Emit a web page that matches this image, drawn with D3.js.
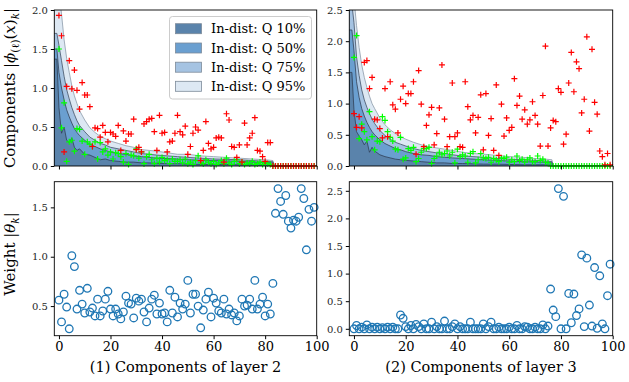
<!DOCTYPE html>
<html>
<head>
<meta charset="utf-8">
<script src="https://cdn.jsdelivr.net/npm/d3@7"></script>
<style>
  body { margin: 0; background: #fff; }
  svg { display: block; font-family: "DejaVu Serif", serif; }
</style>
</head>
<body>
<svg id="chart" width="629" height="382"></svg>
<script>
// ---- data ----
const xTicks = [0, 20, 40, 60, 80, 100];
const legendLabels = ["In-dist: Q 10%", "In-dist: Q 50%", "In-dist: Q 75%", "In-dist: Q 95%"];

// layer 2: in-dist quantile curves
const qxL2 = [-2, -0.8, 0, 1, 2, 3, 4, 5, 6, 7, 8, 10, 12, 14, 16, 18, 20, 23, 26, 29, 32, 35, 38, 42, 46, 50, 55, 60, 65, 70, 75, 80, 83, 83.6, 100];
const q95L2 = [2.3, 2.3, 2.25, 1.95, 1.62, 1.38, 1.20, 1.03, 0.90, 0.80, 0.71, 0.59, 0.49, 0.43, 0.38, 0.35, 0.32, 0.29, 0.26, 0.24, 0.21, 0.20, 0.19, 0.17, 0.15, 0.15, 0.13, 0.12, 0.11, 0.10, 0.09, 0.08, 0.07, 0, 0];
const q75L2 = [1.70, 1.70, 1.55, 1.35, 1.15, 0.98, 0.86, 0.75, 0.66, 0.58, 0.52, 0.44, 0.37, 0.33, 0.29, 0.27, 0.24, 0.22, 0.20, 0.18, 0.16, 0.15, 0.14, 0.13, 0.12, 0.11, 0.10, 0.09, 0.085, 0.08, 0.07, 0.06, 0.055, 0, 0];
const q50L2 = [1.50, 1.50, 1.20, 1.00, 0.85, 0.72, 0.63, 0.55, 0.48, 0.43, 0.39, 0.33, 0.28, 0.25, 0.22, 0.20, 0.18, 0.16, 0.15, 0.13, 0.12, 0.11, 0.10, 0.095, 0.09, 0.08, 0.075, 0.07, 0.065, 0.06, 0.05, 0.045, 0.04, 0, 0];
const q10L2 = [1.37, 1.37, 0.75, 0.42, 0.50, 0.33, 0.30, 0.36, 0.24, 0.20, 0.22, 0.15, 0.14, 0.11, 0.08, 0.09, 0.07, 0.06, 0.05, 0.05, 0.04, 0.04, 0.035, 0.03, 0.03, 0.025, 0.02, 0.02, 0.02, 0.015, 0.015, 0.01, 0.01, 0, 0];

// layer 2: one in-dist (green) and one OOD (red) sample, components 0..99
const inL2 = [1.50, 0.49, 0.81, 0.06, 0.31, 0.33, 0.19, 0.48, 0.47, 0.32,
  0.15, 0.31, 0.28, 0.25, 0.31, 0.09, 0.30, 0.18, 0.22, 0.14,
  0.18, 0.09, 0.17, 0.16, 0.12, 0.05, 0.16, 0.02, 0.14, 0.13,
  0.22, 0.10, 0.18, 0.03, 0.12, 0.15, 0.08, 0.03, 0.10, 0.05,
  0.11, 0.07, 0.08, 0.03, 0.09, 0.06, 0.06, 0.08, 0.04, 0.09,
  0.03, 0.05, 0.02, 0.07, 0.13, 0.04, 0.03, 0.08, 0.05, 0.03,
  0.06, 0.02, 0.04, 0.07, 0.03, 0.10, 0.04, 0.02, 0.06, 0.08,
  0.03, 0.05, 0.02, 0.04, 0.03, 0.06, 0.02, 0.03, 0.05, 0.02,
  0.04, 0.03, 0.02, 0, 0, 0, 0, 0, 0, 0,
  0, 0, 0, 0, 0, 0, 0, 0, 0, 0];
const oodL2 = [1.93, 1.67, 0.18, 1.02, 1.35, 0.99, 1.23, 0.97, 0.73, 1.07,
  0.91, 0.91, 0.76, 0.25, 0.49, 0.48, 0.37, 0.52, 0.43, 0.31,
  0.43, 0.41, 0.38, 0.52, 0.20, 0.45, 0.32, 0.41, 0.41, 0.60,
  0.21, 0.24, 0.18, 0.54, 0.57, 0.60, 0.61, 0.44, 0.20, 0.65,
  0.42, 0.43, 0.18, 0.31, 0.32, 0.42, 0.65, 0.44, 0.40, 0.51,
  0.15, 0.25, 0.42, 0.50, 0.46, 0.07, 0.20, 0.57, 0.29, 0.22,
  0.24, 0.36, 0.37, 0.36, 0.05, 0.67, 0.59, 0.25, 0.24, 0.11,
  0.27, 0.05, 0.55, 0.27, 0.36, 0.42, 0.62, 0.20, 0.19, 0.12,
  0.06, 0.30, 0.30, 0, 0, 0, 0, 0, 0, 0,
  0, 0, 0, 0, 0, 0, 0, 0, 0, 0];

// layer 3: in-dist quantile curves
const qxL3 = [-2, -0.8, 0, 1, 2, 3, 4, 5, 6, 7, 8, 10, 12, 14, 16, 18, 20, 23, 26, 29, 32, 35, 38, 42, 46, 50, 55, 60, 65, 70, 74, 76.5, 77, 100];
const q95L3 = [2.8, 2.8, 2.7, 2.25, 1.90, 1.62, 1.42, 1.26, 1.12, 1.00, 0.92, 0.77, 0.66, 0.58, 0.52, 0.47, 0.43, 0.38, 0.34, 0.31, 0.29, 0.27, 0.25, 0.22, 0.20, 0.19, 0.17, 0.15, 0.14, 0.12, 0.11, 0.10, 0, 0];
const q75L3 = [2.6, 2.6, 2.3, 1.75, 1.45, 1.22, 1.06, 0.94, 0.84, 0.75, 0.68, 0.57, 0.49, 0.43, 0.38, 0.35, 0.32, 0.28, 0.25, 0.23, 0.21, 0.20, 0.18, 0.16, 0.15, 0.14, 0.12, 0.11, 0.10, 0.09, 0.08, 0.07, 0, 0];
const q50L3 = [2.18, 2.18, 1.85, 1.35, 1.10, 0.92, 0.80, 0.70, 0.62, 0.55, 0.50, 0.42, 0.36, 0.32, 0.28, 0.26, 0.23, 0.20, 0.18, 0.17, 0.15, 0.14, 0.13, 0.12, 0.11, 0.10, 0.09, 0.08, 0.07, 0.065, 0.06, 0.05, 0, 0];
const q10L3 = [1.5, 1.5, 0.9, 0.55, 0.48, 0.42, 0.34, 0.40, 0.22, 0.30, 0.24, 0.18, 0.15, 0.13, 0.11, 0.10, 0.09, 0.08, 0.07, 0.06, 0.05, 0.05, 0.04, 0.04, 0.035, 0.03, 0.03, 0.025, 0.02, 0.02, 0.02, 0.015, 0, 0];

const inL3 = [1.74, 2.09, 0.44, 0.67, 0.55, 0.42, 0.87, 0.47, 0.26, 0.40,
  0.39, 0.79, 0.73, 0.55, 0.46, 0.40, 0.27, 0.26, 0.46, 0.11,
  0.13, 0.28, 0.25, 0.30, 0.07, 0.12, 0.22, 0.28, 0.28, 0.30,
  0.04, 0.12, 0.16, 0.22, 0.18, 0.20, 0.24, 0.16, 0.22, 0.05,
  0.27, 0.15, 0.18, 0.16, 0.06, 0.20, 0.23, 0.05, 0.10, 0.20,
  0.13, 0.12, 0.14, 0.06, 0.12, 0.10, 0.07, 0.13, 0.12, 0.14,
  0.06, 0.10, 0.07, 0.16, 0.09, 0.11, 0.06, 0.10, 0.13, 0.07,
  0.07, 0.16, 0.09, 0.11, 0.06, 0.05, 0, 0, 0, 0,
  0, 0, 0, 0, 0, 0, 0, 0, 0, 0,
  0, 0, 0, 0, 0, 0, 0, 0, 0, 0];
const oodL3 = [0.84, 0.62, 0.79, 0.61, 1.66, 1.69, 1.24, 1.42, 0.75, 0.74,
  0.60, 0.45, 1.24, 0.47, 1.35, 0.98, 0.91, 0.53, 1.07, 1.28,
  1.00, 1.16, 1.16, 1.35, 0.19, 1.53, 0.99, 0.31, 0.65, 0.82,
  0.94, 0.34, 0.52, 0.93, 1.62, 0.75, 0.31, 0.47, 1.33, 0.47,
  0.53, 0.31, 0.30, 1.35, 0.95, 0.74, 0.81, 0.53, 0.78, 1.14,
  0.26, 1.16, 0.49, 0.76, 0.25, 1.30, 0.17, 0.99, 0.48, 0.77,
  0.57, 0.62, 1.40, 0.97, 1.12, 0.75, 0.90, 0.67, 0.74, 1.03,
  0.81, 0.67, 0.32, 1.13, 1.92, 0.32, 0.61, 0.73, 0.71, 1.24,
  1.18, 0.35, 0.51, 1.33, 1.82, 1.19, 1.67, 1.56, 0.85, 1.07,
  2.07, 0.56, 1.87, 1.02, 0.83, 0.24, 0.15, 0.02, 0.20, 0.02];

// weights |theta_k|
const wL2 = [0.56, 0.34, 0.62, 0.49, 0.27, 1.01, 0.90, 0.47, 0.66, 0.52,
  0.43, 0.68, 0.44, 0.48, 0.40, 0.57, 0.40, 0.45, 0.57, 0.65,
  0.47, 0.40, 0.47, 0.42, 0.37, 0.44, 0.60, 0.53, 0.52, 0.38,
  0.58, 0.55, 0.57, 0.44, 0.34, 0.48, 0.57, 0.61, 0.42, 0.53,
  0.42, 0.43, 0.34, 0.66, 0.43, 0.59, 0.39, 0.53, 0.47, 0.52,
  0.76, 0.43, 0.62, 0.62, 0.50, 0.28, 0.46, 0.57, 0.64, 0.39,
  0.58, 0.53, 0.45, 0.43, 0.57, 0.42, 0.47, 0.41, 0.43, 0.35,
  0.40, 0.57, 0.50, 0.51, 0.57, 0.47, 0.76, 0.47, 0.52, 0.59,
  0.40, 0.52, 0.42, 0.73, 1.44, 1.69, 1.56, 1.43, 1.62, 1.36,
  1.29, 1.37, 1.36, 1.40, 1.69, 1.59, 1.07, 1.48, 1.36, 1.50];
const wL3 = [0.00, 0.06, 0.00, 0.03, 0.00, 0.07, 0.00, 0.03, 0.00, 0.03,
  0.00, 0.02, 0.00, 0.03, 0.00, 0.03, 0.00, 0.00, 0.25, 0.19,
  0.04, 0.00, 0.06, 0.00, 0.08, 0.04, 0.00, 0.09, 0.00, 0.00,
  0.12, 0.00, 0.04, 0.00, 0.00, 0.14, 0.00, 0.00, 0.04, 0.09,
  0.00, 0.04, 0.00, 0.00, 0.00, 0.12, 0.00, 0.00, 0.00, 0.00,
  0.09, 0.00, 0.04, 0.12, 0.00, 0.00, 0.03, 0.00, 0.00, 0.00,
  0.03, 0.00, 0.00, 0.06, 0.00, 0.00, 0.04, 0.03, 0.00, 0.00,
  0.03, 0.00, 0.00, 0.07, 0.00, 0.05, 0.72, 0.34, 0.22, 2.54,
  0.00, 2.40, 0.00, 0.64, 0.11, 0.63, 0.24, 0.36, 1.34, 0.04,
  1.28, 0.43, 0.05, 1.11, 0.01, 0.96, 0.09, 0.00, 0.60, 1.17];

// ---- layout ----
const svg = d3.select("#chart");
const bandColors = ["#5a83ab", "#6a9fd0", "#a5c3e2", "#dde8f3"];
const edgeColors = ["#2e3d52", "#2e3d52", "#3c4b60", "#8796a6"];

const cols = [
  {x0: 54.3, x1: 316.7, label: "(1) Components of layer 2",
   qx: qxL2, q: [q10L2, q50L2, q75L2, q95L2], inS: inL2, oodS: oodL2, yTopMax: 2.0, yTopTicks: [0, 0.5, 1, 1.5, 2],
   w: wL2, wDomain: [0.2, 1.76], wTicks: [0.5, 1.0, 1.5]},
  {x0: 349.3, x1: 612.7, label: "(2) Components of layer 3",
   qx: qxL3, q: [q10L3, q50L3, q75L3, q95L3], inS: inL3, oodS: oodL3, yTopMax: 2.5, yTopTicks: [0, 0.5, 1, 1.5, 2, 2.5],
   w: wL3, wDomain: [-0.125, 2.665], wTicks: [0, 0.5, 1.0, 1.5, 2.0, 2.5]}
];
const topBox = {y0: 10, y1: 166};
const botBox = {y0: 181.7, y1: 335.7};
const idx = d3.range(100);

const defs = svg.append("defs");

cols.forEach((c, ci) => {
  const x = d3.scaleLinear().domain([-1.8, 100]).range([c.x0, c.x1]);

  // --- top panel: quantile bands + samples ---
  const y = d3.scaleLinear().domain([0, c.yTopMax]).range([topBox.y1, topBox.y0]);
  defs.append("clipPath").attr("id", "clip" + ci)
    .append("rect").attr("x", c.x0).attr("y", topBox.y0)
    .attr("width", c.x1 - c.x0).attr("height", topBox.y1 - topBox.y0);
  const gTop = svg.append("g").attr("clip-path", `url(#clip${ci})`);

  // draw widest band first so narrower ones sit on top
  [3, 2, 1, 0].forEach(k => {
    const pts = c.qx.map((xv, j) => [xv, c.q[k][j]]);
    gTop.append("path").datum(pts)
      .attr("fill", bandColors[k])
      .attr("d", d3.area().x(d => x(d[0])).y0(y(0)).y1(d => y(d[1])));
    gTop.append("path").datum(pts)
      .attr("fill", "none")
      .attr("stroke", edgeColors[k])
      .attr("stroke-opacity", 0.85)
      .attr("stroke-width", 0.9)
      .attr("d", d3.line().x(d => x(d[0])).y(d => y(d[1])));
  });

  const plus = "M-3,0H3M0,-3V3";
  [[c.inS, "#00ff00"], [c.oodS, "#ff0000"]].forEach(([vals, col]) => {
    svg.append("g").selectAll("path").data(idx).join("path")
      .attr("transform", i => `translate(${x(i)},${y(vals[i])})`)
      .attr("d", plus)
      .attr("stroke", col)
      .attr("stroke-width", 1.2)
      .attr("fill", "none");
  });

  svg.append("g").attr("transform", `translate(0,${topBox.y1})`)
    .call(d3.axisBottom(x).tickValues(xTicks).tickSize(3.5).tickFormat(""))
    .call(g => g.select(".domain").remove());
  svg.append("g").attr("transform", `translate(${c.x0},0)`)
    .call(d3.axisLeft(y).tickValues(c.yTopTicks).tickSize(3.5).tickPadding(3).tickFormat(d3.format(".1f")))
    .call(g => g.select(".domain").remove())
    .call(g => g.selectAll("text").attr("font-size", 10).attr("font-family", "DejaVu Serif").attr("fill", "#262626"));
  svg.append("rect").attr("x", c.x0).attr("y", topBox.y0)
    .attr("width", c.x1 - c.x0).attr("height", topBox.y1 - topBox.y0)
    .attr("fill", "none").attr("stroke", "#000").attr("stroke-width", 0.9);

  // --- bottom panel: weights ---
  const yw = d3.scaleLinear().domain(c.wDomain).range([botBox.y1, botBox.y0]);
  svg.append("g").selectAll("circle").data(idx).join("circle")
    .attr("cx", i => x(i))
    .attr("cy", i => yw(c.w[i]))
    .attr("r", 3.8)
    .attr("fill", "none")
    .attr("stroke", "#1f77b4")
    .attr("stroke-width", 1.3);

  svg.append("g").attr("transform", `translate(0,${botBox.y1})`)
    .call(d3.axisBottom(x).tickValues(xTicks).tickSize(3.5).tickPadding(3))
    .call(g => g.select(".domain").remove())
    .call(g => g.selectAll("text").attr("font-size", 13).attr("font-family", "DejaVu Serif").attr("fill", "#000"));
  svg.append("g").attr("transform", `translate(${c.x0},0)`)
    .call(d3.axisLeft(yw).tickValues(c.wTicks).tickSize(3.5).tickPadding(3).tickFormat(d3.format(".1f")))
    .call(g => g.select(".domain").remove())
    .call(g => g.selectAll("text").attr("font-size", 10).attr("font-family", "DejaVu Serif").attr("fill", "#262626"));
  svg.append("rect").attr("x", c.x0).attr("y", botBox.y0)
    .attr("width", c.x1 - c.x0).attr("height", botBox.y1 - botBox.y0)
    .attr("fill", "none").attr("stroke", "#000").attr("stroke-width", 0.9);

  svg.append("text")
    .attr("x", (c.x0 + c.x1) / 2).attr("y", 372)
    .attr("text-anchor", "middle")
    .attr("font-size", 14.5)
    .text(c.label);
});

// ---- legend ----
const lg = svg.append("g");
lg.append("rect").attr("x", 169.5).attr("y", 16.5).attr("width", 142).attr("height", 82.5)
  .attr("rx", 3).attr("fill", "#fff").attr("fill-opacity", 0.85).attr("stroke", "#cccccc");
const rowY = [28.7, 48, 67.2, 86.3];
legendLabels.forEach((t, k) => {
  lg.append("rect").attr("x", 175.5).attr("y", rowY[k] - 5).attr("width", 26).attr("height", 10)
    .attr("fill", bandColors[k]).attr("stroke", "#7d8a99").attr("stroke-width", 0.8);
  lg.append("text").attr("x", 211).attr("y", rowY[k] + 4.6)
    .attr("font-size", 13).text(t);
});

// ---- y labels with math ----
function mathLabel(cx, cy, parts) {
  const t = svg.append("text")
    .attr("transform", `translate(${cx},${cy}) rotate(-90)`)
    .attr("text-anchor", "middle")
    .attr("font-size", 15);
  parts.forEach(p => {
    const s = t.append("tspan").text(p.t);
    if (p.it) s.attr("font-style", "italic");
    if (p.sub) s.attr("font-size", 10.5).attr("dy", 3.5);
    if (p.up) s.attr("dy", -3.5);
  });
}
mathLabel(15, 88, [
  {t: "Components  |"}, {t: "ϕ", it: true},
  {t: "(ℓ)", sub: true}, {t: "(", up: true}, {t: "x", it: true}, {t: ")"},
  {t: "k", it: true, sub: true}, {t: "|", up: true}
]);
mathLabel(15, 254, [
  {t: "Weight    |"}, {t: "θ", it: true}, {t: "k", it: true, sub: true}, {t: "|", up: true}
]);
</script>
</body>
</html>
